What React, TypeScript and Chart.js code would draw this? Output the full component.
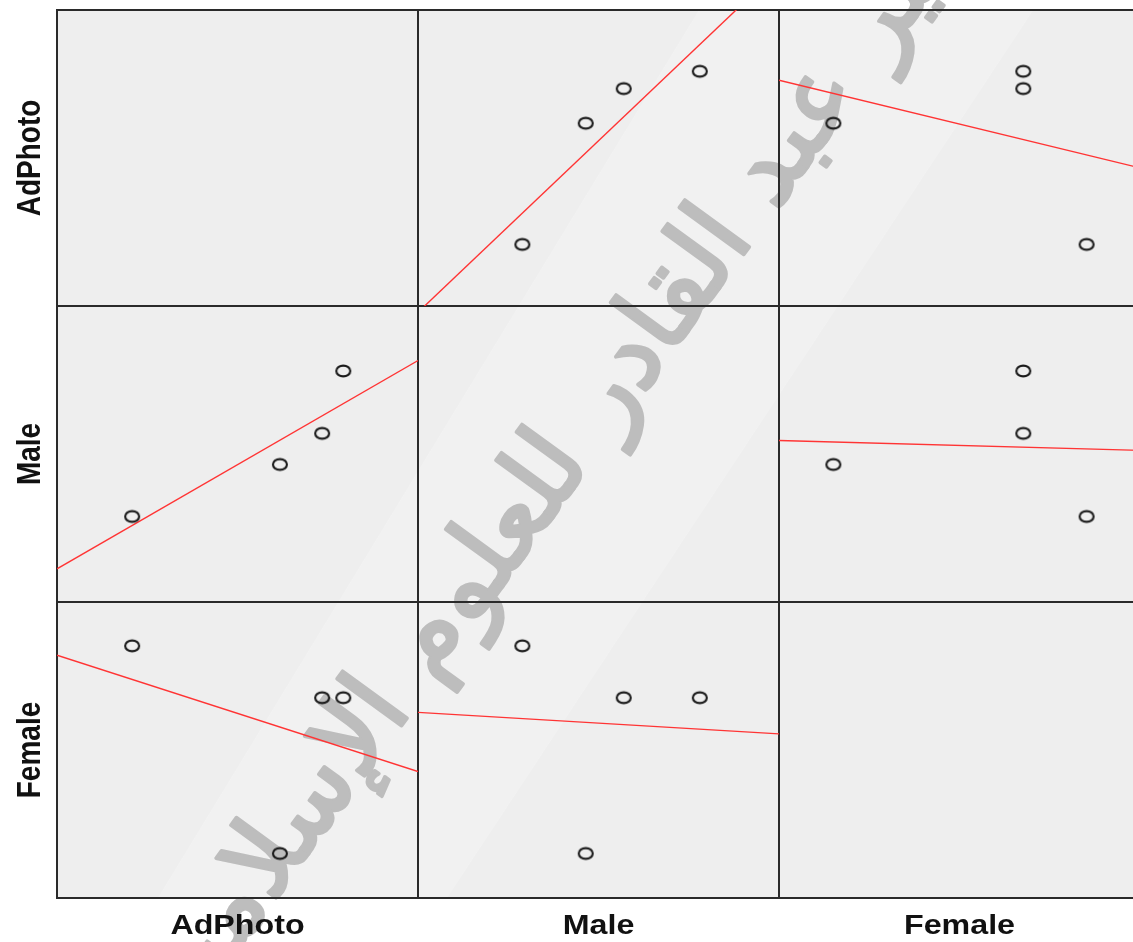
import { useEffect, useRef } from 'react';
import { Chart, registerables } from 'chart.js';

Chart.register(...registerables);

// Variables of the scatterplot matrix (row order top→bottom, column order left→right)
const variables = ['AdPhoto', 'Male', 'Female'];

// Observations (one entry per case)
const adPhoto = [25, 60, 70, 75];
const male = [20, 25, 28, 34];
const female = [30, 10, 25, 25];

// Axis ranges for each variable, same index as `variables`
const axisMin = [7.2, 11.77, 5.71];
const axisMax = [92.7, 40.25, 34.22];

const watermarkText = 'جامعة الأمير عبد القادر للعلوم الإسلامية';
const watermarkFitPart = 'عبد القادر للعلوم الإسلامية';

const series = [adPhoto, male, female];
const xIds = ['xA', 'xM', 'xF'];
const yIds = ['yA', 'yM', 'yF'];

function leastSquares(xs: number[], ys: number[]) {
  const n = xs.length;
  const mx = xs.reduce((s, v) => s + v, 0) / n;
  const my = ys.reduce((s, v) => s + v, 0) / n;
  let sxy = 0;
  let sxx = 0;
  for (let i = 0; i < n; i++) {
    sxy += (xs[i] - mx) * (ys[i] - my);
    sxx += (xs[i] - mx) * (xs[i] - mx);
  }
  const slope = sxy / sxx;
  return { slope, intercept: my - slope * mx };
}

function makeMarker() {
  const c = document.createElement('canvas');
  c.width = 20;
  c.height = 16;
  const g = c.getContext('2d')!;
  g.lineWidth = 2.1;
  g.strokeStyle = '#1a1a1a';
  g.beginPath();
  g.ellipse(10, 8, 7, 5.4, 0, 0, Math.PI * 2);
  g.stroke();
  return c;
}

function buildDatasets(marker: HTMLCanvasElement) {
  const sets: any[] = [];
  for (let r = 0; r < 3; r++) {
    for (let c = 0; c < 3; c++) {
      if (r === c) continue;
      const xs = series[c];
      const ys = series[r];
      const fit = leastSquares(xs, ys);
      sets.push({
        type: 'scatter',
        label: `${variables[r]} vs ${variables[c]} fit`,
        data: [axisMin[c], axisMax[c]].map((x) => ({ x, y: fit.intercept + fit.slope * x })),
        xAxisID: xIds[c],
        yAxisID: yIds[r],
        showLine: true,
        borderColor: '#ff3434',
        borderWidth: 1.4,
        pointRadius: 0,
        order: 2,
      });
      sets.push({
        type: 'scatter',
        label: `${variables[r]} vs ${variables[c]}`,
        data: xs.map((x, i) => ({ x, y: ys[i] })),
        xAxisID: xIds[c],
        yAxisID: yIds[r],
        pointStyle: marker,
        pointRadius: 7,
        order: 1,
      });
    }
  }
  return sets;
}

function buildScales() {
  const scales: any = {};
  for (let i = 0; i < 3; i++) {
    scales[xIds[i]] = {
      type: 'linear',
      position: 'bottom',
      stack: 'cols',
      stackWeight: 1,
      weight: i + 1,
      min: axisMin[i],
      max: axisMax[i],
      display: false,
    };
    scales[yIds[i]] = {
      type: 'linear',
      position: 'left',
      stack: 'rows',
      stackWeight: 1,
      weight: 3 - i,
      min: axisMin[i],
      max: axisMax[i],
      display: false,
    };
  }
  return scales;
}

const matrixFrame = {
  id: 'matrixFrame',
  beforeDatasetsDraw(chart: any) {
    const { ctx } = chart;
    const xs = xIds.map((id) => chart.scales[id]);
    const ys = yIds.map((id) => chart.scales[id]);
    const left = xs[0].left;
    const right = xs[2].right;
    const top = ys[0].top;
    const bottom = ys[2].bottom;

    ctx.save();
    // cell backgrounds
    ctx.fillStyle = '#eeeeee';
    ctx.fillRect(left, top, right - left, bottom - top);

    // soft light sheen across the panel
    ctx.save();
    ctx.beginPath();
    ctx.rect(left, top, right - left, bottom - top);
    ctx.clip();
    ctx.fillStyle = 'rgba(255,255,255,0.22)';
    ctx.beginPath();
    ctx.moveTo(705, 0);
    ctx.lineTo(1040, 0);
    ctx.lineTo(418, 942);
    ctx.lineTo(131, 942);
    ctx.closePath();
    ctx.fill();
    ctx.restore();

    // diagonal watermark
    ctx.save();
    ctx.font = '100px "DejaVu Sans", sans-serif';
    const w = ctx.measureText(watermarkFitPart).width;
    const size = (100 * 1150) / w;
    ctx.font = `${size.toFixed(1)}px "DejaVu Sans", sans-serif`;
    ctx.translate(165, 1005);
    ctx.rotate((-54 * Math.PI) / 180);
    ctx.fillStyle = '#bdbdbd';
    ctx.strokeStyle = '#bdbdbd';
    ctx.lineWidth = 3.5;
    ctx.lineJoin = 'round';
    ctx.textAlign = 'left';
    ctx.textBaseline = 'middle';
    ctx.strokeText(watermarkText, 0, 0);
    ctx.fillText(watermarkText, 0, 0);
    ctx.restore();

    // cell borders
    ctx.strokeStyle = '#2a2a2a';
    ctx.lineWidth = 2;
    for (let r = 0; r < 3; r++) {
      for (let c = 0; c < 3; c++) {
        ctx.strokeRect(xs[c].left, ys[r].top, xs[c].right - xs[c].left, ys[r].bottom - ys[r].top);
      }
    }
    ctx.restore();
  },
  afterDraw(chart: any) {
    const { ctx } = chart;
    ctx.save();
    ctx.fillStyle = '#111111';
    ctx.font = 'bold 28px "Liberation Sans", Arial, sans-serif';
    ctx.textAlign = 'center';
    ctx.textBaseline = 'alphabetic';
    for (let i = 0; i < 3; i++) {
      const sx = chart.scales[xIds[i]];
      ctx.save();
      ctx.translate((sx.left + sx.right) / 2, 934);
      ctx.scale(1.15, 1);
      ctx.fillText(variables[i], 0, 0);
      ctx.restore();

      const sy = chart.scales[yIds[i]];
      ctx.save();
      ctx.translate(40, (sy.top + sy.bottom) / 2);
      ctx.rotate(-Math.PI / 2);
      ctx.scale(1, 1.2);
      ctx.fillText(variables[i], 0, 0);
      ctx.restore();
    }
    ctx.restore();
  },
};

export default function App() {
  const ref = useRef<HTMLCanvasElement>(null);

  useEffect(() => {
    const canvas = ref.current;
    if (!canvas) return;
    const marker = makeMarker();
    const chart = new Chart(canvas, {
      type: 'scatter',
      data: { datasets: buildDatasets(marker) },
      options: {
        responsive: false,
        animation: false,
        events: [],
        layout: { padding: { left: 57, top: 10, right: 20, bottom: 44 } },
        plugins: { legend: { display: false }, tooltip: { enabled: false } },
        scales: buildScales(),
      },
      plugins: [matrixFrame],
    } as any);
    return () => chart.destroy();
  }, []);

  return (
    <div
      style={{
        position: 'absolute',
        left: 0,
        top: 0,
        width: 1133,
        height: 942,
        overflow: 'hidden',
        background: '#ffffff',
      }}
    >
      <canvas ref={ref} width={1160} height={942} style={{ display: 'block' }} />
    </div>
  );
}
